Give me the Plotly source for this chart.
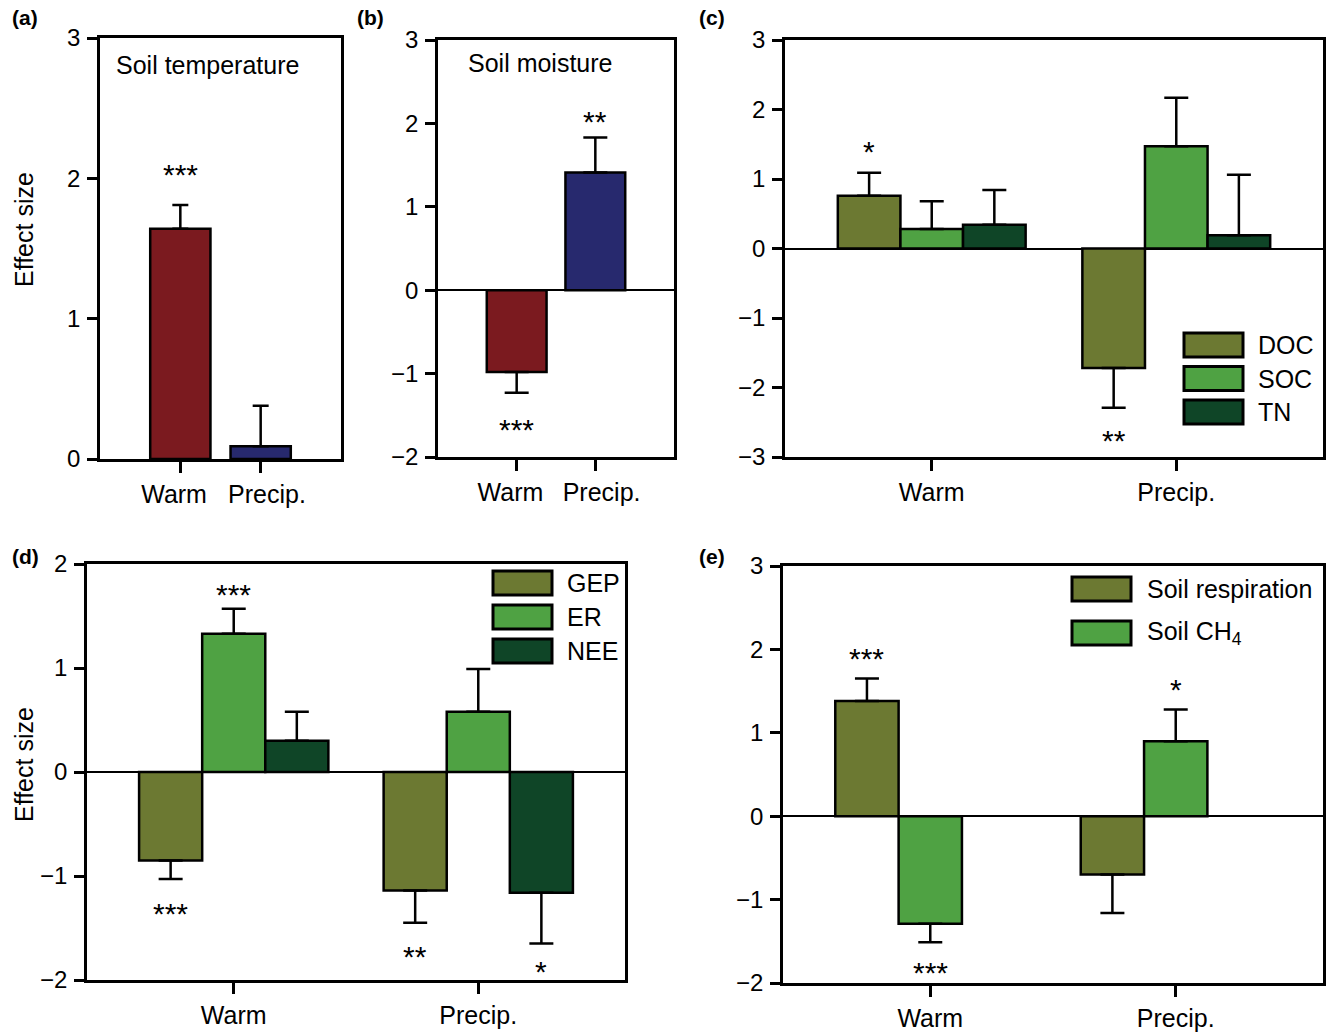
import plotly.graph_objects as go

W, H = 1327, 1036
FONT = "Arial, Liberation Sans, Helvetica, sans-serif"

categories = ["Warm", "Precip."]

# (a) Soil temperature
temp_values = [1.64, 0.09]
temp_errors = [0.17, 0.29]
# (b) Soil moisture
moist_values = [-0.98, 1.41]
moist_errors = [0.25, 0.42]
# (c) DOC / SOC / TN
doc_values = [0.76, -1.72]
doc_errors = [0.33, 0.57]
soc_values = [0.28, 1.47]
soc_errors = [0.40, 0.70]
tn_values = [0.34, 0.19]
tn_errors = [0.50, 0.87]
# (d) GEP / ER / NEE
gep_values = [-0.85, -1.14]
gep_errors = [0.18, 0.31]
er_values = [1.33, 0.58]
er_errors = [0.24, 0.41]
nee_values = [0.30, -1.16]
nee_errors = [0.28, 0.49]
# (e) Soil respiration / Soil CH4
srs_values = [1.38, -0.70]
srs_errors = [0.27, 0.46]
ch4_values = [-1.29, 0.90]
ch4_errors = [0.22, 0.38]

yticks_a = [0, 1, 2, 3]
yticks_b = [-2, -1, 0, 1, 2, 3]
yticks_c = [-3, -2, -1, 0, 1, 2, 3]
yticks_d = [-2, -1, 0, 1, 2]
yticks_e = [-2, -1, 0, 1, 2, 3]

RED = "#7b1a1f"
BLUE = "#27296e"
OLIVE = "#6c7932"
GREEN = "#4fa243"
DARK = "#0f4527"

TICK_SIZE = 24
TEXT_SIZE = 25
STAR_SIZE = 30


def px_x(p):
    return p / W


def px_y(p):
    return 1 - p / H


panels = [
    dict(label="(a)", label_pos=(10, 18), xdom=(100, 341), ydom=(38, 459), xr=[-1, 2], yr=[0, 3],
         yt=yticks_a, zero=False, narrow=True,
         series=[("Soil temperature", temp_values, temp_errors, [RED, BLUE])],
         width=0.75, offsets=[-0.375], cap=8, ytitle=True,
         inner="Soil temperature", inner_pos=(114, 65),
         legend=None,
         stars=[(0, 0, "***", 35)]),
    dict(label="(b)", label_pos=(355, 18), xdom=(438, 674), ydom=(40, 457), xr=[-1, 2], yr=[-2, 3],
         yt=yticks_b, zero=True, narrow=True,
         series=[("Soil moisture", moist_values, moist_errors, [RED, BLUE])],
         width=0.76, offsets=[-0.38], cap=12, ytitle=False,
         inner="Soil moisture", inner_pos=(466, 63),
         legend=None,
         stars=[(0, 0, "***", 31), (0, 1, "**", 20)]),
    dict(label="(c)", label_pos=(697, 18), xdom=(785, 1323), ydom=(40, 457), xr=[-0.6, 1.6], yr=[-3, 3],
         yt=yticks_c, zero=True, narrow=False,
         series=[("DOC", doc_values, doc_errors, OLIVE),
                 ("SOC", soc_values, soc_errors, GREEN),
                 ("TN", tn_values, tn_errors, DARK)],
         width=0.256, offsets=[-0.384, -0.128, 0.128], cap=12, ytitle=False,
         inner=None, inner_pos=None,
         legend=dict(x0=1184, y0=333, step=33.5, tx=1256),
         stars=[(0, 0, "*", 25), (0, 1, "**", 27)]),
    dict(label="(d)", label_pos=(10, 556), xdom=(87, 625), ydom=(564, 980), xr=[-0.6, 1.6], yr=[-2, 2],
         yt=yticks_d, zero=True, narrow=False,
         series=[("GEP", gep_values, gep_errors, OLIVE),
                 ("ER", er_values, er_errors, GREEN),
                 ("NEE", nee_values, nee_errors, DARK)],
         width=0.258, offsets=[-0.387, -0.129, 0.129], cap=12, ytitle=True,
         inner=None, inner_pos=None,
         legend=dict(x0=493, y0=571, step=34, tx=565),
         stars=[(1, 0, "***", 18), (0, 0, "***", 28), (0, 1, "**", 28), (2, 1, "*", 22)]),
    dict(label="(e)", label_pos=(697, 556), xdom=(783, 1323), ydom=(566, 983), xr=[-0.6, 1.6], yr=[-2, 3],
         yt=yticks_e, zero=True, narrow=False,
         series=[("Soil respiration", srs_values, srs_errors, OLIVE),
                 ("Soil CH<sub>4</sub>", ch4_values, ch4_errors, GREEN)],
         width=0.258, offsets=[-0.387, -0.129], cap=12, ytitle=False,
         inner=None, inner_pos=None,
         legend=dict(x0=1072, y0=577, step=44, tx=1145),
         stars=[(0, 0, "***", 24), (1, 0, "***", 24), (1, 1, "*", 24)]),
]

fig = go.Figure()
shapes = []
annotations = []
layout_axes = {}

for k, p in enumerate(panels):
    n = k + 1
    xa = "x" if n == 1 else f"x{n}"
    ya = "y" if n == 1 else f"y{n}"
    xkey = "xaxis" if n == 1 else f"xaxis{n}"
    ykey = "yaxis" if n == 1 else f"yaxis{n}"

    # in the narrow panels the two category labels sit slightly apart from their ticks
    if p["narrow"]:
        ticktext = [categories[0] + "\u2002", "\u2002" + categories[1]]
    else:
        ticktext = list(categories)

    layout_axes[xkey] = dict(
        domain=[px_x(p["xdom"][0]), px_x(p["xdom"][1])], anchor=ya, automargin=False,
        type="category", categoryorder="array", categoryarray=categories,
        tickmode="array", tickvals=categories, ticktext=ticktext, tickangle=0,
        range=p["xr"], showline=True, mirror=True, linecolor="black", linewidth=2.5,
        ticks="outside", ticklen=11, tickwidth=2.5, tickcolor="black",
        showgrid=False, zeroline=False, ticklabelstandoff=0,
        tickfont=dict(family=FONT, size=TEXT_SIZE, color="black"), fixedrange=True,
    )
    layout_axes[ykey] = dict(
        domain=[px_y(p["ydom"][1]), px_y(p["ydom"][0])], anchor=xa, automargin=False,
        range=p["yr"], tickvals=p["yt"], showline=True, mirror=True, linecolor="black",
        linewidth=2.5, ticks="outside", ticklen=10, tickwidth=2.5, tickcolor="black",
        showgrid=False, zeroline=p["zero"], zerolinecolor="black", zerolinewidth=2,
        ticklabelstandoff=2,
        tickfont=dict(family=FONT, size=TICK_SIZE, color="black"), fixedrange=True,
    )

    for s, (name, vals, errs, color) in enumerate(p["series"]):
        fig.add_trace(go.Bar(
            x=categories, y=vals, name=name, xaxis=xa, yaxis=ya,
            width=p["width"], offset=p["offsets"][s], showlegend=False,
            marker=dict(color=color, line=dict(color="black", width=2.5)),
            error_y=dict(type="data", symmetric=False,
                         array=[e if v >= 0 else 0 for v, e in zip(vals, errs)],
                         arrayminus=[e if v < 0 else 0 for v, e in zip(vals, errs)],
                         color="black", thickness=2.5, width=p["cap"]),
        ))

    # significance stars
    for (s, i, txt, gap) in p["stars"]:
        vals, errs = p["series"][s][1], p["series"][s][2]
        v, e = vals[i], errs[i]
        end = v + e if v >= 0 else v - e
        shift = (gap - 4) if v >= 0 else -(gap + 6)
        annotations.append(dict(
            x=i + p["offsets"][s] + p["width"] / 2, y=end, xref=xa, yref=ya,
            text=txt, showarrow=False, yanchor="middle", xanchor="center", yshift=shift,
            font=dict(family=FONT, size=STAR_SIZE, color="black"),
        ))

    # panel label
    annotations.append(dict(
        x=px_x(p["label_pos"][0]), y=px_y(p["label_pos"][1]),
        xref="paper", yref="paper", text=f"<b>{p['label']}</b>", showarrow=False,
        xanchor="left", yanchor="middle", font=dict(family=FONT, size=21, color="black"),
    ))

    if p["ytitle"]:
        annotations.append(dict(
            x=px_x(24), y=px_y(230 if n == 1 else 765),
            xref="paper", yref="paper", text="Effect size", textangle=-90, showarrow=False,
            xanchor="center", yanchor="middle", font=dict(family=FONT, size=TEXT_SIZE, color="black"),
        ))

    if p["inner"]:
        annotations.append(dict(
            x=px_x(p["inner_pos"][0]), y=px_y(p["inner_pos"][1]), xref="paper", yref="paper",
            text=p["inner"], showarrow=False, xanchor="left", yanchor="middle",
            font=dict(family=FONT, size=TEXT_SIZE, color="black"),
        ))

    if p["legend"]:
        lg = p["legend"]
        for j, (name, vals, errs, color) in enumerate(p["series"]):
            top = lg["y0"] + j * lg["step"]
            shapes.append(dict(
                type="rect", xref="paper", yref="paper",
                x0=px_x(lg["x0"]), x1=px_x(lg["x0"] + 59), y0=px_y(top + 24), y1=px_y(top),
                fillcolor=color, line=dict(color="black", width=3),
            ))
            annotations.append(dict(
                x=px_x(lg["tx"]), y=px_y(top + 12), xref="paper", yref="paper",
                text=name, showarrow=False, xanchor="left", yanchor="middle",
                font=dict(family=FONT, size=TEXT_SIZE, color="black"),
            ))

fig.update_layout(
    width=W, height=H, margin=dict(l=0, r=0, t=0, b=0, pad=0, autoexpand=False),
    paper_bgcolor="white", plot_bgcolor="white", barmode="overlay",
    shapes=shapes, annotations=annotations, showlegend=False,
    font=dict(family=FONT, color="black"),
    **layout_axes,
)

fig.write_html(
    "out.html",
    config={"displayModeBar": False},
    post_script="document.body.style.margin='0px';document.body.style.overflow='hidden';",
)
